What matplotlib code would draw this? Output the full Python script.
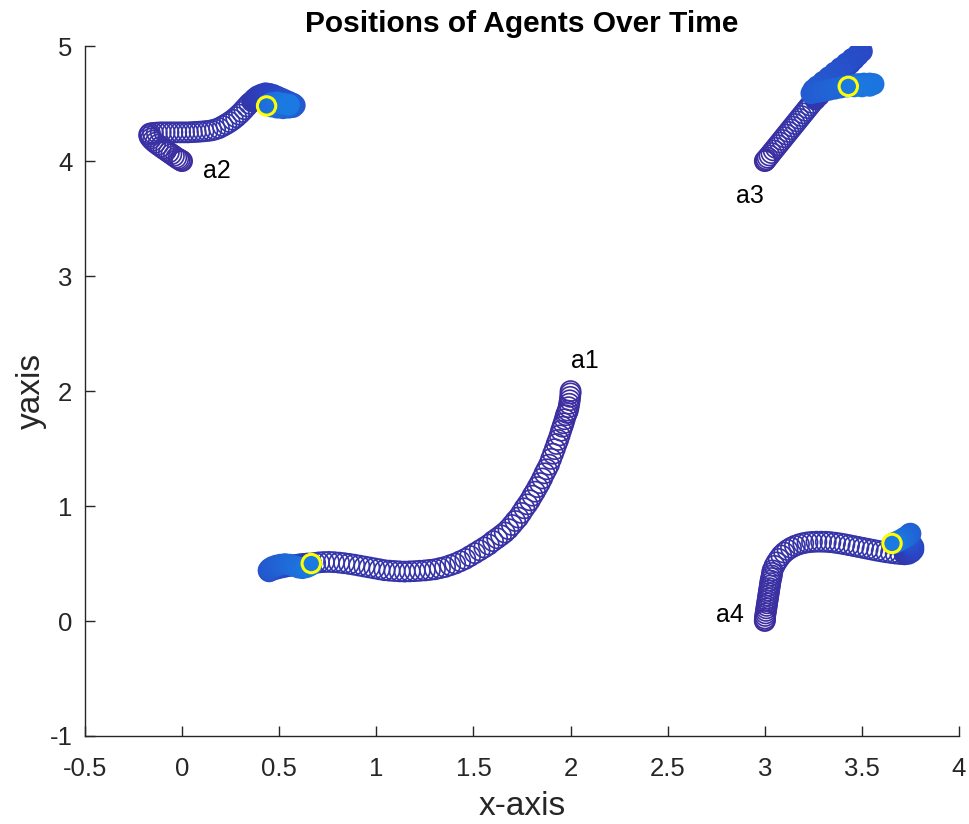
import numpy as np
import matplotlib
matplotlib.use("Agg")
from matplotlib import pyplot as plt
from matplotlib.colors import LinearSegmentedColormap

plt.rcParams['font.family'] = ['Liberation Sans', 'DejaVu Sans']

# agent trajectories (start -> end)
# "moving" part is drawn as open rings, "settled" part as filled dots
a1_x = [2.000, 2.000, 1.998, 1.996, 1.993, 1.990, 1.986, 1.981, 1.976, 1.970, 1.964, 1.958,
        1.951, 1.944, 1.936, 1.928, 1.919, 1.910, 1.900, 1.889, 1.877, 1.866, 1.854, 1.842,
        1.830, 1.817, 1.804, 1.791, 1.777, 1.762, 1.747, 1.731, 1.715, 1.698, 1.680, 1.661,
        1.642, 1.622, 1.601, 1.579, 1.556, 1.532, 1.508, 1.483, 1.458, 1.432, 1.406, 1.380,
        1.354, 1.328, 1.302, 1.276, 1.250, 1.224, 1.198, 1.172, 1.146, 1.120, 1.094, 1.068,
        1.042, 1.016, 0.990, 0.964, 0.938, 0.912, 0.886, 0.860, 0.834, 0.808, 0.782, 0.756,
        0.730, 0.705, 0.685, 0.665]
a1_y = [2.00, 1.98, 1.95, 1.92, 1.89, 1.86, 1.83, 1.81, 1.79, 1.755, 1.72, 1.69,
        1.655, 1.615, 1.575, 1.54, 1.495, 1.455, 1.41, 1.36, 1.32, 1.285, 1.24, 1.20,
        1.165, 1.125, 1.09, 1.05, 1.015, 0.98, 0.94, 0.90, 0.87, 0.835, 0.80, 0.77,
        0.745, 0.72, 0.695, 0.665, 0.64, 0.615, 0.59, 0.565, 0.54, 0.52, 0.50, 0.485,
        0.47, 0.46, 0.45, 0.445, 0.44, 0.437, 0.434, 0.432, 0.43, 0.432, 0.435, 0.438,
        0.442, 0.45, 0.458, 0.466, 0.474, 0.482, 0.49, 0.497, 0.503, 0.508, 0.512, 0.514,
        0.513, 0.51, 0.505, 0.50]
a1_end_x = [0.645, 0.625, 0.605, 0.585, 0.565, 0.545, 0.525, 0.505, 0.487, 0.470, 0.457,
            0.448, 0.445, 0.452, 0.466, 0.485, 0.507, 0.530, 0.555, 0.578, 0.600, 0.620,
            0.640, 0.655, 0.665]
a1_end_y = [0.500, 0.497, 0.493, 0.488, 0.483, 0.477, 0.470, 0.463, 0.456, 0.448, 0.440,
            0.432, 0.440, 0.455, 0.470, 0.482, 0.490, 0.495, 0.490, 0.478, 0.465, 0.460,
            0.468, 0.480, 0.490]

a2_x = [0.000, -0.005, -0.012, -0.020, -0.030, -0.042, -0.055, -0.068, -0.082, -0.096,
        -0.110, -0.124, -0.138, -0.150, -0.160, -0.167, -0.170, -0.165, -0.150, -0.130,
        -0.110, -0.090, -0.070, -0.050, -0.030, -0.010, 0.010, 0.030, 0.050, 0.070,
        0.090, 0.110, 0.130, 0.150, 0.170, 0.190, 0.210, 0.228, 0.245, 0.262,
        0.278, 0.293, 0.307, 0.320, 0.333, 0.346]
a2_y = [4.000, 4.005, 4.012, 4.020, 4.030, 4.045, 4.060, 4.075, 4.092, 4.108,
        4.125, 4.142, 4.160, 4.178, 4.196, 4.212, 4.228, 4.240, 4.245, 4.248,
        4.250, 4.250, 4.250, 4.250, 4.250, 4.250, 4.250, 4.250, 4.252, 4.254,
        4.256, 4.259, 4.262, 4.267, 4.275, 4.287, 4.305, 4.322, 4.340, 4.360,
        4.382, 4.405, 4.428, 4.452, 4.476, 4.500]
a2_end_x = [0.360, 0.375, 0.390, 0.410, 0.430, 0.450, 0.470, 0.490, 0.510, 0.530, 0.550,
            0.570, 0.580, 0.570, 0.550, 0.520, 0.490, 0.460, 0.440, 0.460, 0.490, 0.520,
            0.550]
a2_end_y = [4.520, 4.545, 4.565, 4.580, 4.590, 4.585, 4.575, 4.560, 4.545, 4.530, 4.515,
            4.500, 4.485, 4.470, 4.465, 4.460, 4.465, 4.475, 4.490, 4.505, 4.510, 4.500,
            4.490]

a3_x = [3.000, 3.003, 3.008, 3.015, 3.024, 3.034, 3.045, 3.056, 3.067, 3.078, 3.089, 3.100,
        3.111, 3.122, 3.133, 3.144, 3.155, 3.166, 3.177, 3.188, 3.199, 3.210, 3.221, 3.232,
        3.243]
a3_y = [4.000, 4.006, 4.016, 4.030, 4.049, 4.070, 4.093, 4.116, 4.139, 4.162, 4.185, 4.208,
        4.231, 4.254, 4.277, 4.300, 4.323, 4.346, 4.369, 4.392, 4.415, 4.438, 4.461, 4.484,
        4.507]
a3_end_x = [3.26, 3.28, 3.30, 3.32, 3.34, 3.36, 3.38, 3.40, 3.42, 3.44, 3.46, 3.48, 3.50,
            3.48, 3.45, 3.42, 3.39, 3.36, 3.33, 3.30, 3.27, 3.25, 3.24,
            3.27, 3.30, 3.33, 3.36, 3.39, 3.42, 3.45, 3.48, 3.51, 3.54, 3.56, 3.54, 3.50,
            3.46, 3.43]
a3_end_y = [4.535, 4.570, 4.605, 4.640, 4.675, 4.710, 4.745, 4.780, 4.815, 4.850, 4.885,
            4.920, 4.955, 4.930, 4.890, 4.850, 4.810, 4.770, 4.730, 4.690, 4.650, 4.620,
            4.590, 4.600, 4.610, 4.620, 4.630, 4.640, 4.650, 4.660, 4.670, 4.675, 4.675,
            4.670, 4.655, 4.650, 4.650, 4.650]

a4_x = [3.000, 3.000, 3.001, 3.002, 3.004, 3.006, 3.008, 3.010, 3.012, 3.014, 3.016, 3.018,
        3.020, 3.022, 3.024, 3.026, 3.028, 3.030, 3.033, 3.036, 3.038, 3.040,
        3.050, 3.060, 3.072, 3.085, 3.100, 3.117, 3.135, 3.155, 3.176, 3.198, 3.220, 3.243,
        3.266, 3.290, 3.314, 3.338, 3.362, 3.386, 3.410, 3.434, 3.458, 3.482, 3.506, 3.530,
        3.554, 3.578, 3.602, 3.626, 3.650, 3.674, 3.698]
a4_y = [0.000, 0.008, 0.022, 0.044, 0.066, 0.088, 0.110, 0.132, 0.154, 0.176, 0.198, 0.220,
        0.242, 0.264, 0.286, 0.308, 0.330, 0.352, 0.374, 0.396, 0.418, 0.440,
        0.480, 0.510, 0.540, 0.570, 0.595, 0.618, 0.637, 0.654, 0.667, 0.677, 0.684, 0.688,
        0.690, 0.690, 0.689, 0.686, 0.681, 0.675, 0.668, 0.660, 0.652, 0.644, 0.636, 0.628,
        0.620, 0.612, 0.605, 0.598, 0.592, 0.587, 0.583]
a4_end_x = [3.720, 3.740, 3.755, 3.765, 3.765, 3.755, 3.745, 3.740, 3.745, 3.750, 3.735,
            3.715, 3.695, 3.675, 3.660]
a4_end_y = [0.580, 0.585, 0.600, 0.620, 0.645, 0.670, 0.700, 0.730, 0.755, 0.760, 0.740,
            0.720, 0.700, 0.685, 0.675]

# yellow markers
mark_x = [0.665, 0.435, 3.43, 3.655]
mark_y = [0.50, 4.48, 4.65, 0.675]

# labels
lab_text = ['a1', 'a2', 'a3', 'a4']
lab_x = [2.0, 0.11, 2.85, 2.75]
lab_y = [2.20, 3.85, 3.64, -0.01]

cmap = LinearSegmentedColormap.from_list(
    'early_parula',
    [(0.0, '#3d2d9f'), (0.3, '#3236ab'), (0.5, '#2a45c4'), (1.0, '#1a7ae2')])

fig = plt.figure(figsize=(9.69, 8.24), dpi=100)
ax = fig.add_axes([0.0877, 0.1068, 0.9020, 0.8372])

agents = [(a1_x, a1_y, a1_end_x, a1_end_y),
          (a2_x, a2_y, a2_end_x, a2_end_y),
          (a3_x, a3_y, a3_end_x, a3_end_y),
          (a4_x, a4_y, a4_end_x, a4_end_y)]

for px, py, ex, ey in agents:
    # moving part takes the first 30% of the colour scale, settling part the rest
    c_move = cmap(np.linspace(0, 0.3, len(px)))
    c_end = cmap(np.linspace(0.3, 1.0, len(ex)))
    ax.scatter(px, py, s=210, facecolors='none', edgecolors=c_move, linewidths=1.2, zorder=2)
    ax.scatter(ex, ey, s=210, c=c_end, edgecolors=c_end, linewidths=1.2, zorder=2)

ax.scatter(mark_x, mark_y, s=175, facecolors='none', edgecolors='#ffff00', linewidths=2.2, zorder=3)

for txt, x, y in zip(lab_text, lab_x, lab_y):
    ax.text(x, y, txt, fontsize=18, color='black')

ax.set_xlim(-0.5, 4)
ax.set_ylim(-1, 5)
ax.set_xticks(np.arange(-0.5, 4.01, 0.5))
ax.set_xticklabels(['-0.5', '0', '0.5', '1', '1.5', '2', '2.5', '3', '3.5', '4'])
ax.set_yticks(np.arange(-1, 6, 1))
ax.set_yticklabels(['-1', '0', '1', '2', '3', '4', '5'])

ax.spines['top'].set_visible(False)
ax.spines['right'].set_visible(False)
for sp in ['left', 'bottom']:
    ax.spines[sp].set_color('#262626')
    ax.spines[sp].set_linewidth(1.0)
ax.tick_params(direction='in', length=7, width=1.0, colors='#262626', labelsize=18.5)
ax.tick_params(axis='x', pad=15)
ax.tick_params(axis='y', pad=9)

ax.set_title('Positions of Agents Over Time', fontsize=21.5, fontweight='bold', pad=10)
ax.set_xlabel('x-axis', fontsize=24, color='#262626', labelpad=7)
ax.set_ylabel('yaxis', fontsize=24, color='#262626', labelpad=2)

fig.savefig('out.png', dpi=100)
